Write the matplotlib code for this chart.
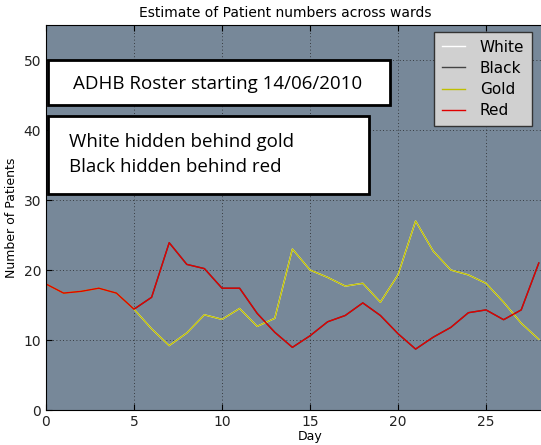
import matplotlib
matplotlib.use("Agg")
import matplotlib.pyplot as plt
from matplotlib.patches import Rectangle

days = list(range(29))
red = [18.0, 16.7, 16.95, 17.4, 16.7, 14.4, 16.1, 23.9, 20.8, 20.2,
       17.4, 17.4, 13.8, 11.1, 8.95, 10.6, 12.6, 13.5, 15.3, 13.5,
       10.9, 8.7, 10.4, 11.8, 13.9, 14.3, 12.9, 14.3, 21.0]
gold = [18.0, 16.7, 16.95, 17.4, 16.7, 14.4, 11.6, 9.2, 11.0, 13.6,
        12.95, 14.5, 11.95, 13.1, 23.0, 20.0, 18.95, 17.7, 18.1, 15.4,
        19.3, 27.0, 22.7, 20.0, 19.3, 18.1, 15.4, 12.4, 10.1]
# white sits under gold, black sits under red
white = gold
black = red

W, H = 541, 445
fig = plt.figure(figsize=(W / 100, H / 100), dpi=100, facecolor="white")

# axes run off the right edge of the picture, like the cropped original
ax = fig.add_axes([46 / W, 35 / H, 528 / W, 385 / H])
ax.set_facecolor("#778899")
ax.plot(days, white, color="white", lw=1.0, label="White")
ax.plot(days, black, color="#444444", lw=1.0, label="Black")
ax.plot(days, gold, color="#bfbf00", lw=1.0, label="Gold")
ax.plot(days, red, color="#e00000", lw=1.0, label="Red")

ax.set_xlim(0, 30)
ax.set_ylim(0, 55)
ax.set_xticks([0, 5, 10, 15, 20, 25])
ax.set_yticks([0, 10, 20, 30, 40, 50])
ax.grid(True, linestyle=(0, (1, 3)), color="#222222", linewidth=0.6)
ax.tick_params(direction="in", top=True, right=True, labelsize=10, length=4,
               labelcolor="#222222")
ax.set_xlabel("Day", fontsize=9, labelpad=1)
ax.set_ylabel("Number of Patients", fontsize=9)
ax.set_title("Estimate of Patient numbers across wards", fontsize=10,
             x=(285 - 46) / 528)

leg = ax.legend(loc="upper left", bbox_to_anchor=((434 - 46) / 528, 1.0 - 7 / 385),
                borderaxespad=0, fontsize=11, frameon=True, fancybox=False,
                handlelength=1.5, handletextpad=1.0, borderpad=0.5,
                labelspacing=0.4)
leg.get_frame().set_facecolor("#d0d0d0")
leg.get_frame().set_edgecolor("#333333")
leg.get_frame().set_alpha(1.0)

# overlaid annotation boxes
def box(x0, y0, x1, y1):
    fig.patches.append(Rectangle((x0 / W, 1 - y1 / H), (x1 - x0) / W, (y1 - y0) / H,
                                 transform=fig.transFigure, facecolor="white",
                                 edgecolor="black", linewidth=2, zorder=10))

box(48, 60, 390, 105)
box(48, 116, 369, 194)
fig.text(218 / W, 1 - 84 / H, "ADHB Roster starting 14/06/2010", ha="center",
         va="center", fontsize=13.5, family="Open Sans", zorder=11)
fig.text(69 / W, 1 - 142 / H, "White hidden behind gold", ha="left",
         va="center", fontsize=13.5, family="Open Sans", zorder=11)
fig.text(69 / W, 1 - 167 / H, "Black hidden behind red", ha="left",
         va="center", fontsize=13.5, family="Open Sans", zorder=11)

fig.savefig("out.png", dpi=100)
